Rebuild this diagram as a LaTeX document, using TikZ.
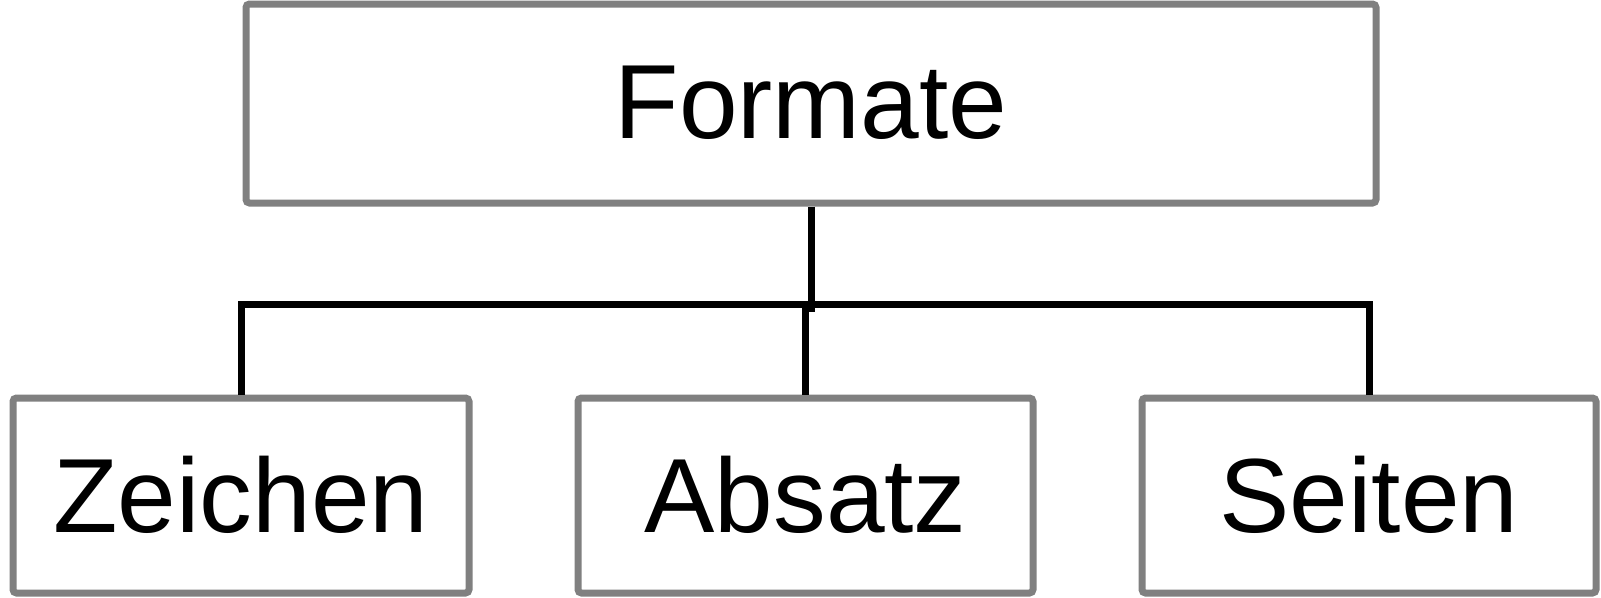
\documentclass[tikz,border=0pt]{standalone}
\usepackage{fontspec}
\setmainfont{Liberation Sans}
\tikzset{
    box/.style={draw=gray, line width=0.07cm, rounded corners=1pt,
        inner sep=0pt, font=\fontsize{30}{36}\selectfont},
    link/.style={draw=black, line width=0.07cm}
}
\begin{document}
\begin{tikzpicture}
\useasboundingbox (0.0, 0.0) rectangle (16.01, -5.97);

\node[box, minimum width=11.3cm, minimum height=1.99cm]
    (formate) at (8.11, -1.035) {\raisebox{0.03cm}{Formate}};

\node[box, minimum width=4.56cm, minimum height=1.95cm]
    (zeichen) at (2.41, -4.955) {\raisebox{0.03cm}{Zeichen}};
\node[box, minimum width=4.55cm, minimum height=1.95cm]
    (absatz) at (8.055, -4.955) {\raisebox{0.03cm}{Absatz}};
\node[box, minimum width=4.54cm, minimum height=1.95cm]
    (seiten) at (13.69, -4.955) {\raisebox{0.03cm}{Seiten}};

\draw[link]
    (formate.south) -- ++(0.0, -1.05);
\draw[link]
    (zeichen.north) -- ++(0.0, 0.9) -| (seiten.north);
\draw[link]
    (absatz.north) -- ++(0.0, 0.9);
\end{tikzpicture}
\end{document}
